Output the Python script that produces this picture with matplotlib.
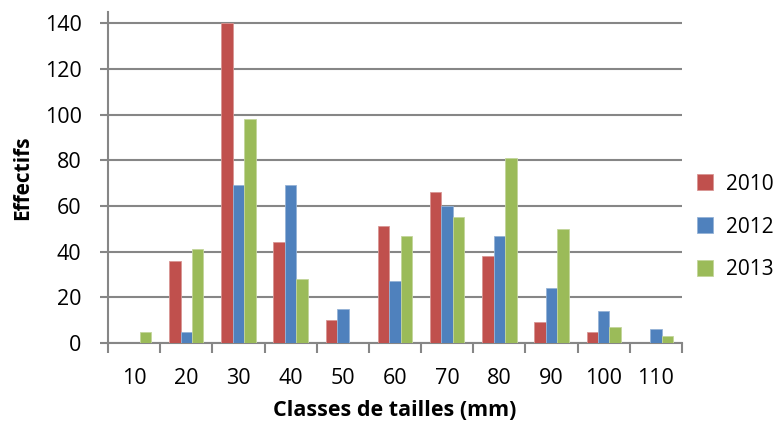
import numpy as np
import matplotlib.pyplot as plt

plt.rcParams['font.family'] = ['Open Sans', 'DejaVu Sans']

# size classes (mm) and counts per year
classes = ["10", "20", "30", "40", "50", "60", "70", "80", "90", "100", "110"]
y2010 = [0, 36, 140, 44, 10, 51, 66, 38, 9, 5, 0]
y2012 = [0, 5, 69, 69, 15, 27, 60, 47, 24, 14, 6]
y2013 = [5, 41, 98, 28, 0, 47, 55, 81, 50, 7, 3]

fig = plt.figure(figsize=(7.73, 4.29), dpi=100)
ax = fig.add_axes([0.1397, 0.2005, 0.7426, 0.772])

x = np.arange(len(classes))
w = 0.22
grid_c = '#868686'
ax.bar(x - w, y2010, w, color='#C0504D', edgecolor='#D99694', linewidth=0.6, label='2010', zorder=3)
ax.bar(x, y2012, w, color='#4F81BD', edgecolor='#95B3D7', linewidth=0.6, label='2012', zorder=3)
ax.bar(x + w, y2013, w, color='#9BBB59', edgecolor='#C3D69B', linewidth=0.6, label='2013', zorder=3)

ax.set_xlim(-0.5, len(classes) - 0.5)
ax.set_ylim(0, 145)
ax.set_yticks(np.arange(0, 141, 20))
ax.set_xticks(x)
ax.set_xticklabels(classes)
ax.set_xticks(np.arange(-0.5, len(classes), 1), minor=True)
ax.tick_params(axis='x', which='major', length=0, pad=18, labelsize=15.5)
ax.tick_params(axis='x', which='minor', length=7, width=1.5, color=grid_c)
ax.tick_params(axis='y', length=6, width=1.5, color=grid_c, labelsize=15.5, pad=13)
ax.yaxis.grid(True, color=grid_c, linewidth=1.5, zorder=0)
ax.set_axisbelow(True)

for s in ['top', 'right']:
    ax.spines[s].set_visible(False)
for s in ['left', 'bottom']:
    ax.spines[s].set_color(grid_c)
    ax.spines[s].set_linewidth(1.5)

ax.set_ylabel("Effectifs", fontsize=15, fontweight='bold', labelpad=8)
ax.set_xlabel("Classes de tailles (mm)", fontsize=15.5, fontweight='bold', labelpad=8)

ax.legend(loc='center left', bbox_to_anchor=(1.0, 0.35), frameon=False, fontsize=15,
          handlelength=0.8, handleheight=0.8, labelspacing=1.05, handletextpad=0.6,
          borderpad=0.2)

plt.savefig("out.png", dpi=100)
